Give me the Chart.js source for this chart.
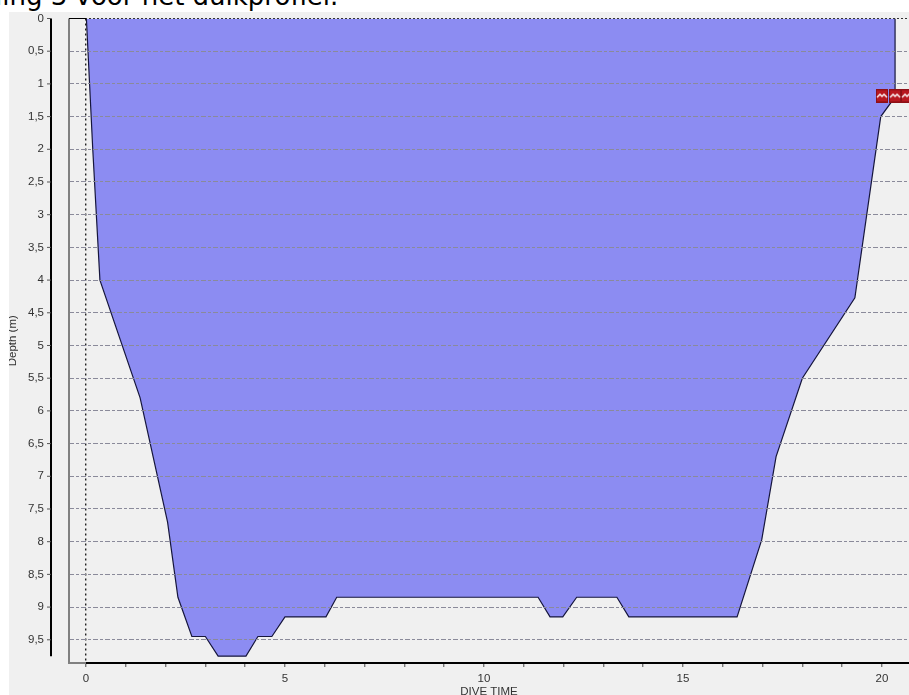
<!DOCTYPE html>
<html>
<head>
<meta charset="utf-8">
<script src="https://cdn.jsdelivr.net/npm/chart.js@4/dist/chart.umd.min.js"></script>
<style>
  html, body { margin: 0; padding: 0; background: #fff; overflow: hidden; }
  #caption { position: absolute; left: -5px; top: -19px; font: 26px 'DejaVu Sans', sans-serif; color: #000; white-space: nowrap; }
  #depthChart { position: absolute; left: 9px; top: 12px; }
</style>
</head>
<body>
<div id="caption">ling 3 voor het duikprofiel.</div>
<canvas id="depthChart" width="900" height="683"></canvas>
<script>
const diveTimes = [0.01, 0.05, 0.17, 0.35, 1.36, 2.05, 2.31, 2.66, 3.0, 3.32, 4.02, 4.32, 4.67, 5.0, 6.03, 6.3,
  11.36, 11.66, 11.98, 12.33, 13.34, 13.64, 16.36, 16.98, 17.34, 18.0, 19.32, 19.97, 20.33, 20.33]
const depths = [0, 0.5, 2.0, 4.0, 5.8, 7.7, 8.85, 9.45, 9.45, 9.75, 9.75, 9.45, 9.45, 9.15, 9.15, 8.85,
  8.85, 9.15, 9.15, 8.85, 8.85, 9.15, 9.15, 7.97, 6.7, 5.5, 4.27, 1.5, 1.2, 0]
const alarmTimes = [20, 20.33, 20.63]
const alarmDepths = [1.19, 1.19, 1.19]
const timeTicks = [0, 1, 2, 3, 4, 5, 6, 7, 8, 9, 10, 11, 12, 13, 14, 15, 16, 17, 18, 19, 20]
const timeLabels = ['0', '', '', '', '', '5', '', '', '', '', '10', '', '', '', '', '15', '', '', '', '', '20']
const depthTicks = [0, 0.5, 1, 1.5, 2, 2.5, 3, 3.5, 4, 4.5, 5, 5.5, 6, 6.5, 7, 7.5, 8, 8.5, 9, 9.5]
const depthLabels = ['0', '0,5', '1', '1,5', '2', '2,5', '3', '3,5', '4', '4,5', '5', '5,5', '6', '6,5', '7', '7,5', '8', '8,5', '9', '9,5']

const labelFont = { family: "'Liberation Sans', Arial, sans-serif", size: 11.5 }
const labelColor = '#333'

// little red alarm icon used for the point markers
function alarmIcon() {
  const c = document.createElement('canvas')
  c.width = 12
  c.height = 14
  const g = c.getContext('2d')
  g.fillStyle = '#8e0f16'
  g.fillRect(0, 0, 12, 14)
  g.fillStyle = '#b81820'
  g.fillRect(1, 1, 10, 11)
  g.strokeStyle = '#fff'
  g.lineWidth = 1.4
  g.beginPath()
  g.moveTo(1, 8)
  g.lineTo(4, 5)
  g.lineTo(6, 7)
  g.lineTo(8, 5)
  g.lineTo(11, 8)
  g.stroke()
  return c
}

// axis lines that sit away from the plot edge, drawn with the chart's own scales
const axisFrame = {
  id: 'axisFrame',
  afterDraw(chart) {
    const { ctx, scales: { x, y }, chartArea: area } = chart
    const zeroX = x.getPixelForValue(0)
    const axisX = area.left - 18
    ctx.save()
    ctx.strokeStyle = '#808080'
    ctx.lineWidth = 2
    ctx.beginPath()
    ctx.moveTo(area.left, area.top)
    ctx.lineTo(area.left, area.bottom)
    ctx.lineTo(zeroX, area.bottom)
    ctx.stroke()
    ctx.strokeStyle = '#000'
    ctx.beginPath()
    ctx.moveTo(zeroX, area.bottom)
    ctx.lineTo(area.right, area.bottom)
    ctx.stroke()
    ctx.lineWidth = 1
    ctx.beginPath()
    ctx.moveTo(area.left, area.top)
    ctx.lineTo(zeroX, area.top)
    ctx.stroke()
    ctx.lineWidth = 2
    ctx.beginPath()
    ctx.moveTo(axisX, area.top)
    ctx.lineTo(axisX, y.getPixelForValue(9.75))
    ctx.stroke()
    ctx.lineWidth = 1
    ctx.strokeStyle = '#555'
    depthTicks.forEach(d => {
      const py = y.getPixelForValue(d)
      ctx.beginPath()
      ctx.moveTo(axisX - 4, py)
      ctx.lineTo(axisX, py)
      ctx.stroke()
    })
    ctx.restore()
  }
}

// fixed box sizes, with the extra space chart.js keeps for edge labels taken out
function fitBox(scale, size) {
  if (scale.isHorizontal()) scale.height = size
  else scale.width = size
  scale.paddingTop = scale.paddingBottom = scale.paddingLeft = scale.paddingRight = 0
}

new Chart(document.getElementById('depthChart').getContext('2d'), {
  type: 'line',
  data: {
    datasets: [{
      order: 1,
      data: diveTimes.map((t, i) => ({ x: t, y: depths[i] })),
      borderColor: '#16163c',
      borderWidth: 1.2,
      backgroundColor: '#8c8cf2',
      fill: { value: 0 },
      tension: 0,
      pointRadius: 0
    }, {
      order: 0,
      data: alarmTimes.map((t, i) => ({ x: t, y: alarmDepths[i] })),
      showLine: false,
      pointStyle: alarmIcon(),
      pointRadius: 7,
      clip: false
    }]
  },
  options: {
    responsive: false,
    animation: false,
    layout: { autoPadding: false, padding: { top: 6.5, left: 0, right: 0, bottom: 0 } },
    plugins: {
      legend: { display: false },
      tooltip: { enabled: false }
    },
    scales: {
      x: {
        type: 'linear',
        min: -0.427,
        max: 20.68,
        afterBuildTicks: scale => { scale.ticks = timeTicks.map(v => ({ value: v })) },
        afterFit: scale => fitBox(scale, 32),
        ticks: {
          autoSkip: false,
          maxRotation: 0,
          padding: 5,
          color: labelColor,
          font: labelFont,
          callback: value => timeLabels[timeTicks.indexOf(value)]
        },
        grid: {
          z: 1,
          lineWidth: 1.4,
          tickLength: 4,
          tickColor: '#777',
          color: c => c.tick && c.tick.value === 0 ? '#222' : 'transparent'
        },
        border: { display: false, dash: [2, 3] },
        title: {
          display: true,
          text: 'DIVE TIME',
          color: labelColor,
          font: labelFont,
          padding: { top: 1, bottom: -3.5 }
        }
      },
      y: {
        type: 'linear',
        reverse: true,
        min: 0,
        max: 9.855,
        afterBuildTicks: scale => { scale.ticks = depthTicks.map(v => ({ value: v })) },
        afterFit: scale => fitBox(scale, 60),
        ticks: {
          autoSkip: false,
          padding: 25,
          color: labelColor,
          font: labelFont,
          callback: value => depthLabels[depthTicks.indexOf(value)]
        },
        grid: {
          z: 1,
          lineWidth: 1,
          drawTicks: false,
          color: c => c.tick && c.tick.value === 0 ? '#333' : '#8a8a9a'
        },
        border: {
          display: false,
          dash: c => c.tick && c.tick.value === 0 ? [2, 2] : [5, 2, 3, 2]
        },
        title: {
          display: true,
          text: 'Depth (m)',
          color: labelColor,
          font: labelFont,
          padding: { top: -3, bottom: 0 }
        }
      }
    }
  },
  plugins: [{
    id: 'panel',
    beforeDraw(chart) {
      const { ctx, width, height } = chart
      ctx.save()
      ctx.fillStyle = '#f0f0f0'
      ctx.fillRect(0, 0, width, height)
      ctx.restore()
    }
  }, axisFrame]
})
</script>
</body>
</html>
